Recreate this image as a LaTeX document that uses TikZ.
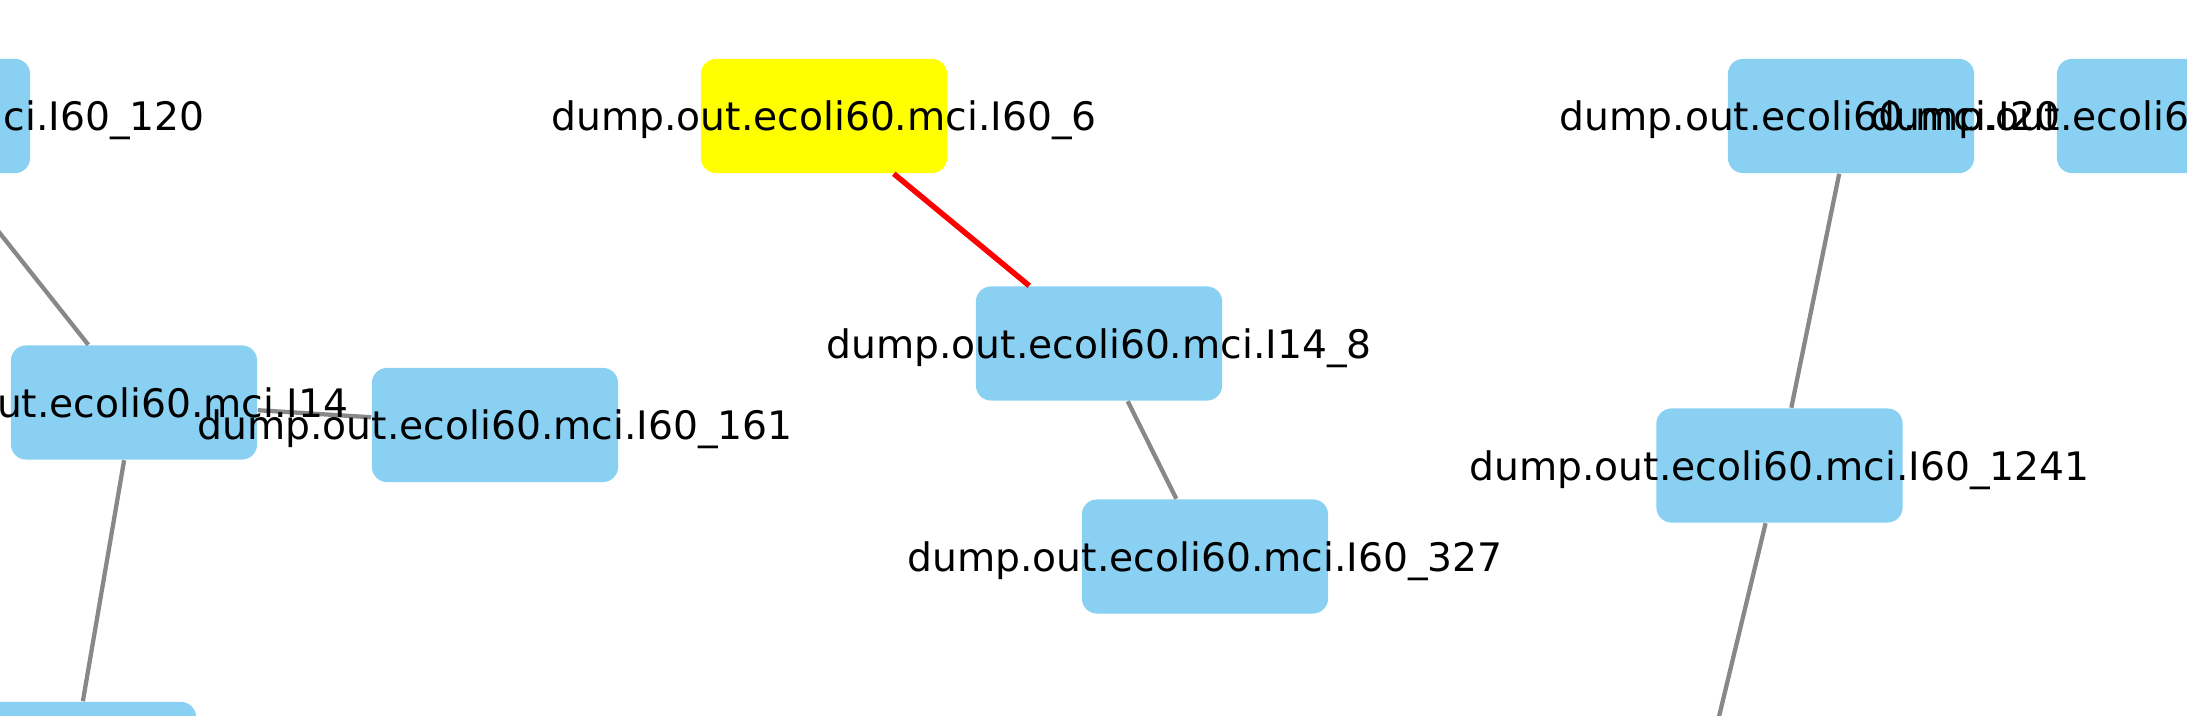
\documentclass[tikz,border=0pt]{standalone}
\usepackage{fontspec}
\setmainfont{DejaVu Sans}
\usepackage{tikz}
\usetikzlibrary{arrows.meta}

\definecolor{nodeblue}{RGB}{137,208,242}
\definecolor{seedyellow}{RGB}{255,255,0}
\definecolor{edgegray}{RGB}{136,136,136}
\definecolor{hitred}{RGB}{255,0,0}

\begin{document}
\begin{tikzpicture}[
    x=0.01cm, y=-0.01cm,
    box/.style={rectangle, rounded corners=0.15cm, fill=nodeblue, draw=none, inner sep=0pt, minimum width=2.46cm, minimum height=1.14cm},
    seedbox/.style={box, fill=seedyellow},
    lbl/.style={anchor=base, inner sep=0pt, yshift=-0.145cm, font=\fontsize{11.16pt}{13pt}\selectfont},
    link/.style={draw=edgegray, line width=1.22pt},
    hitlink/.style={draw=hitred, line width=1.56pt}
  ]
  \useasboundingbox (0,0) rectangle (2187,716);
  \clip (0,0) rectangle (2187,716);

  % Nodes
  \node[box] (n120) at (-93,116) {};
  \node[box] (nI14) at (134,402.5) {};
  \node[box] (n161) at (495,425) {};
  \node[box] (nlow) at (73,759) {};
  \node[seedbox] (n6) at (824,116) {};
  \node[box] (nI14_8) at (1099,343.5) {};
  \node[box] (n327) at (1205,556.5) {};
  \node[box] (nI20) at (1851,116) {};
  \node[box] (n1241) at (1779.5,465.5) {};
  \node[box] (nright) at (2180,116) {};
  \coordinate (below1241) at (1683,866);

  % Edges
  \draw[link] (n120) -- (nI14);
  \draw[link] (nI14) -- (n161);
  \draw[link] (nI14) -- (nlow);
  \draw[hitlink] (n6) -- (nI14_8);
  \draw[link] (nI14_8) -- (n327);
  \draw[link] (nI20) -- (n1241);
  \draw[link] (n1241) -- (below1241);

  % Labels
  \node[lbl] (t120) at (n120) {dump.out.ecoli60.mci.I60\_120};
  \node[lbl, xshift=-0.36cm] (tI14) at (nI14) {dump.out.ecoli60.mci.I14};
  \node[lbl] (t161) at (n161) {dump.out.ecoli60.mci.I60\_161};
  \node[lbl] (t6) at (n6) {dump.out.ecoli60.mci.I60\_6};
  \node[lbl] (tI14_8) at (nI14_8) {dump.out.ecoli60.mci.I14\_8};
  \node[lbl] (t327) at (n327) {dump.out.ecoli60.mci.I60\_327};
  \node[lbl, xshift=-0.41cm] (tI20) at (nI20) {dump.out.ecoli60.mci.I20};
  \node[lbl] (t1241) at (n1241) {dump.out.ecoli60.mci.I60\_1241};
  \node[lbl, anchor=base west, xshift=-3.10cm] (tright) at (nright) {dump.out.ecoli60};

\end{tikzpicture}
\end{document}
